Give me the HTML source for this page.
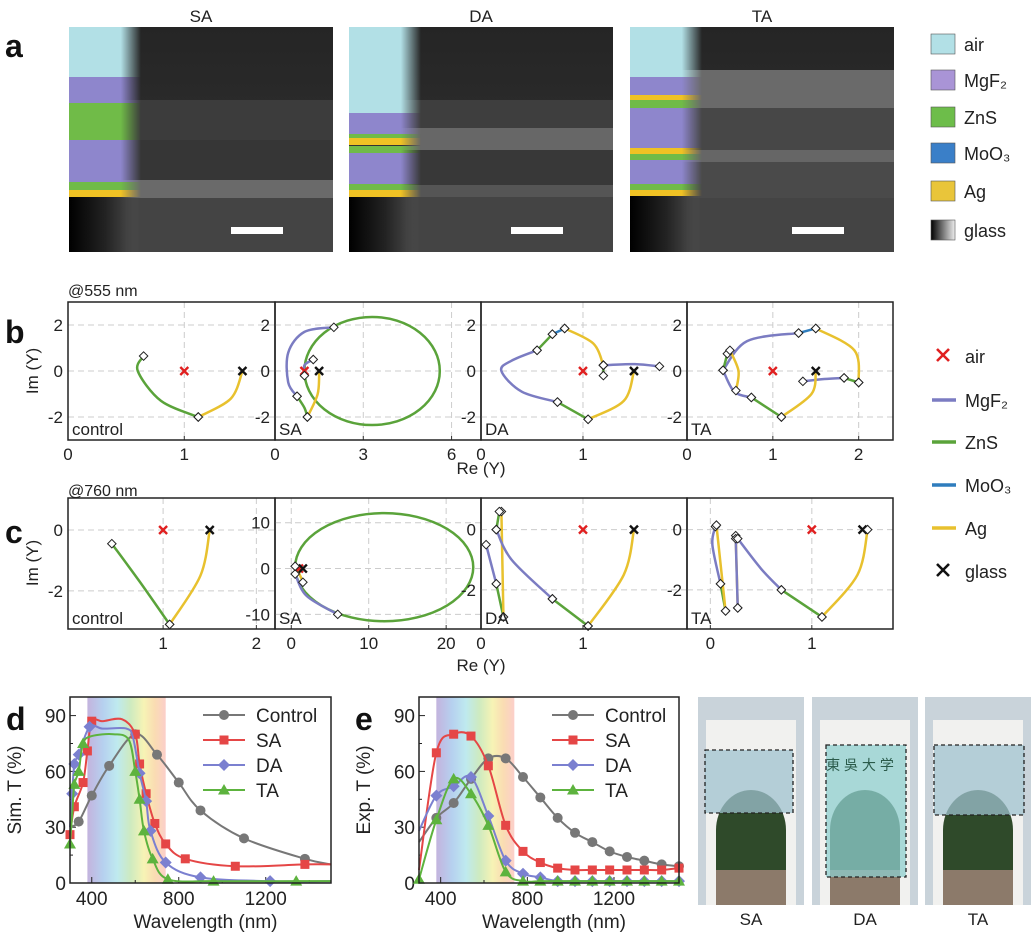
<!DOCTYPE html>
<html><head><meta charset="utf-8"><style>
body{margin:0;background:#fff;}
svg{display:block;font-family:"Liberation Sans",Arial,sans-serif;}
</style></head><body>
<svg id="fig" width="1033" height="944" viewBox="0 0 1033 944" xmlns="http://www.w3.org/2000/svg">
<defs>
<linearGradient id="glassG" x1="0" x2="1"><stop offset="0" stop-color="#000"/><stop offset="0.5" stop-color="#222"/><stop offset="1" stop-color="#555"/></linearGradient>
<linearGradient id="glassL" x1="0" x2="1"><stop offset="0" stop-color="#000"/><stop offset="1" stop-color="#eee"/></linearGradient>
<linearGradient id="spec" x1="0" x2="1"><stop offset="0" stop-color="#b9a6d8"/><stop offset="0.2" stop-color="#a9c8ec"/><stop offset="0.38" stop-color="#b3e6ec"/><stop offset="0.55" stop-color="#c5e7b5"/><stop offset="0.72" stop-color="#f5f1a8"/><stop offset="0.86" stop-color="#f9d6a5"/><stop offset="1" stop-color="#fbc6c0"/></linearGradient>
<linearGradient id="semTop" x1="0" x2="0" y1="0" y2="1"><stop offset="0" stop-color="#252525"/><stop offset="1" stop-color="#333"/></linearGradient>
<linearGradient id="maskL" x1="0" x2="1"><stop offset="0" stop-color="#fff" stop-opacity="1"/><stop offset="0.72" stop-color="#fff" stop-opacity="1"/><stop offset="1" stop-color="#fff" stop-opacity="0"/></linearGradient>
<mask id="stripeMask" maskContentUnits="objectBoundingBox"><rect x="0" y="0" width="1" height="1" fill="url(#maskL)"/></mask>
</defs>
<g id="root"></g>
</svg>
<script>
// ---------- data: panel d (simulated) ----------
const dCtrlX=[300,340,400,480,600,700,800,900,1100,1380,1500];
const dCtrlY=[30,33,47,63,80,69,54,39,24,13,10];
const dSAX=[300,320,360,380,400,450,540,600,620,650,690,740,830,1060,1380,1500];
const dSAY=[26,41,54,71,87,87,88,80,64,48,32,21,13,9,10,10];
const dDAX=[300,310,320,340,390,450,560,590,620,650,670,740,900,1220,1500];
const dDAY=[30,48,64,69,84,83,83,78,59,44,28,11,3,1,1];
const dTAX=[300,310,320,340,360,400,500,570,600,620,640,680,750,960,1340,1500];
const dTAY=[21,37,53,60,75,79,80,77,60,45,28,13,2,1,1,1];
const dCtrlM=[340,400,480,600,700,800,900,1100,1380];
const dSAM=[300,320,360,380,400,600,620,650,690,740,830,1060,1380];
const dDAM=[310,320,340,390,620,650,670,740,900,1220];
const dTAM=[300,320,340,360,600,620,640,680,750,960,1340];
// ---------- data: panel e (experimental) ----------
const eX=[300,380,460,540,620,700,780,860,940,1020,1100,1180,1260,1340,1420,1500];
const eCtrl=[22,35,43,56,67,67,57,46,35,27,22,17,14,12,10,9];
const eSA=[7,70,80,79,63,31,17,11,8,7,7,7,7,7,7,8];
const eDA=[28,47,52,57,36,12,5,3,1,1,1,1,1,1,1,1];
const eTA=[2,34,56,48,31,6,1,1,1,1,1,1,1,1,1,1];
// ---------- admittance loci: segments [layer, points] ----------
const bCtrl=[["ZnS",[[0.65,0.65],[0.6,0],[0.8,-1.3],[1.12,-2.0]]],["Ag",[[1.12,-2.0],[1.4,-1.2],[1.5,0]]]];
const bSA=[["MgF2",[[2,1.9],[1.0,1.7],[0.45,0.8],[0.45,-0.5],[0.75,-1.1]]],["ZnS",[[0.75,-1.1],[1.0,-1.6],[1.1,-2.0]]],["Ag",[[1.1,-2.0],[1.45,-1.0],[1.5,0]]],["MgF2",[[1.3,0.5],[1.0,0.25],[1.0,-0.2]]]];
const bSAring=[3.3,0,2.3,2.35];
const bDA=[["MgF2",[[0.55,0.9],[0.3,0.45],[0.2,0],[0.4,-0.9],[0.75,-1.35]]],["ZnS",[[0.75,-1.35],[1.05,-2.1]]],["Ag",[[1.05,-2.1],[1.4,-1.3],[1.5,0]]],["ZnS",[[0.55,0.9],[0.7,1.6]]],["MoO3",[[0.7,1.6],[0.82,1.85]]],["Ag",[[0.82,1.85],[1.1,1.2],[1.2,0.25]]],["ZnS",[[1.2,0.25],[1.2,-0.2]]],["MgF2",[[1.2,0.25],[1.5,0.3],[1.75,0.2]]]];
const bTA=[["MgF2",[[1.3,1.65],[0.7,1.3],[0.42,0.03]]],["MoO3",[[1.3,1.65],[1.5,1.85]]],["Ag",[[1.5,1.85],[1.95,0.9],[2.0,-0.5]]],["ZnS",[[2.0,-0.5],[1.83,-0.3]]],["MgF2",[[1.83,-0.3],[1.6,-0.35],[1.35,-0.45]]],["Ag",[[1.5,0],[1.45,-1],[1.1,-2]]],["ZnS",[[1.1,-2],[0.75,-1.15]]],["MgF2",[[0.75,-1.15],[0.55,-0.9],[0.42,0.03]]],["ZnS",[[0.42,0.03],[0.47,0.75]]],["Ag",[[0.5,0.9],[0.6,0],[0.57,-0.85]]]];
const cCtrl=[["ZnS",[[0.45,-0.45],[0.75,-1.7],[1.07,-3.1]]],["Ag",[[1.07,-3.1],[1.4,-1.5],[1.5,0]]]];
const cSA=[["MgF2",[[0.5,-1.2],[2,-6],[6,-10]]],["Ag",[[0.5,0.5],[1,-1],[1.5,-3]]]];
const cSAring=[12,0.3,11.5,11.8];
const cDA=[["MgF2",[[0.05,-0.5],[0.15,-1.8]]],["ZnS",[[0.15,-1.8],[0.22,-2.9]]],["Ag",[[0.22,-2.9],[0.2,0.6]]],["ZnS",[[0.18,0.6],[0.15,0]]],["MgF2",[[0.15,0],[0.3,-1.0],[0.7,-2.3]]],["ZnS",[[0.7,-2.3],[1.05,-3.2]]],["Ag",[[1.05,-3.2],[1.4,-1.5],[1.5,0]]]];
const cTA=[["MgF2",[[0.05,0.1],[0.02,-0.5],[0.1,-1.8]]],["ZnS",[[0.1,-1.8],[0.15,-2.7]]],["Ag",[[0.15,-2.7],[0.06,0.15]]],["Ag",[[0.25,-0.2],[0.27,-2.6]]],["MgF2",[[0.27,-2.6],[0.25,-0.3]]],["MgF2",[[0.27,-0.3],[0.5,-1.3],[0.7,-2.0]]],["ZnS",[[0.7,-2.0],[1.1,-2.9]]],["Ag",[[1.1,-2.9],[1.45,-1.5],[1.55,0]]]];
const layerColor={MgF2:"#7b7cc2",ZnS:"#5aa33a",MoO3:"#2f7dbd",Ag:"#e8c12e"};

const NS="http://www.w3.org/2000/svg";
const root=document.getElementById('root');
function el(tag,attrs,parent,name,inter){const e=document.createElementNS(NS,tag);for(const k in attrs)e.setAttribute(k,attrs[k]);
 
 
 (parent||root).appendChild(e);return e;}
function txt(x,y,s,size,parent,name,extra){const t=el('text',Object.assign({x:x,y:y,'font-size':size,fill:'#222'},extra||{}),parent,name);t.textContent=s;return t;}
function smooth(pts){if(pts.length<3)return 'M'+pts.map(p=>p[0]+','+p[1]).join('L');
 let d='M'+pts[0][0]+','+pts[0][1];
 for(let i=0;i<pts.length-1;i++){const p0=pts[i-1]||pts[i],p1=pts[i],p2=pts[i+1],p3=pts[i+2]||p2;
  const c1=[p1[0]+(p2[0]-p0[0])/6,p1[1]+(p2[1]-p0[1])/6],c2=[p2[0]-(p3[0]-p1[0])/6,p2[1]-(p3[1]-p1[1])/6];
  d+='C'+c1[0]+','+c1[1]+' '+c2[0]+','+c2[1]+' '+p2[0]+','+p2[1];}
 return d;}

// ---------- panel a ----------
txt(5,57,'a',32,root,'panel-a-label',{'font-weight':'bold',fill:'#111'});
const semPanels=[{t:'SA',x:69,layers:[['#b2e0e6',27,77],['#8e86cc',77,103],['#70bb48',103,140],['#8e86cc',140,182],['#70bb48',182,190],['#f0c224',190,197]],films:[[100,140,'#3c3c3c'],[140,180,'#363636'],[180,198,'#6a6a6a']],sub:198},
 {t:'DA',x:349,layers:[['#b2e0e6',27,113],['#8e86cc',113,134],['#70bb48',134,138],['#f0c224',138,145],['#333',145,146],['#70bb48',146,153],['#8e86cc',153,184],['#70bb48',184,190],['#f0c224',190,197]],films:[[100,128,'#3e3e3e'],[128,150,'#676767'],[150,185,'#383838'],[185,197,'#555']],sub:197},
 {t:'TA',x:630,layers:[['#b2e0e6',27,77],['#8e86cc',77,95],['#f0c224',95,100],['#70bb48',100,108],['#8e86cc',108,148],['#f0c224',148,154],['#70bb48',154,160],['#8e86cc',160,184],['#70bb48',184,190],['#f0c224',190,196]],films:[[70,108,'#6a6a6a'],[108,150,'#474747'],[150,162,'#666'],[162,198,'#4a4a4a']],sub:198}];
semPanels.forEach(p=>{
 const g=el('g',{},root,'sem-image-'+p.t.toLowerCase());
 el('rect',{x:p.x,y:27,width:264,height:225,fill:'url(#semTop)'},g,'sem-background');
 p.films.forEach(b=>el('rect',{x:p.x,y:b[0],width:264,height:b[1]-b[0],fill:b[2]},g,'sem-film-layer'));
 el('rect',{x:p.x,y:p.sub,width:264,height:252-p.sub,fill:'#444'},g,'sem-substrate');
 const sg=el('g',{mask:'url(#stripeMask)'},g,'layer-stripe');
 p.layers.forEach(l=>el('rect',{x:p.x,y:l[1],width:72,height:l[2]-l[1],fill:l[0]},sg,'layer-band'));
 el('rect',{x:p.x,y:p.layers[p.layers.length-1][2],width:72,height:252-p.layers[p.layers.length-1][2],fill:'url(#glassG)'},sg,'glass-band');
 el('rect',{x:p.x+162,y:227,width:52,height:7,fill:'#fff'},g,'scale-bar');
 txt(p.x+132,22,p.t,17,g,'sem-title',{'text-anchor':'middle'});
});
const aLeg=[['#b2e0e6','air'],['#a994d6','MgF₂'],['#6dbd4a','ZnS'],['#3a7fc8','MoO₃'],['#e9c53a','Ag'],['url(#glassL)','glass']];
aLeg.forEach((l,i)=>{const y=[34,70,107,143,181,220][i];
 el('rect',{x:931,y:y,width:24,height:20,fill:l[0],stroke:'#555','stroke-width':0.6},root,'legend-swatch-'+i);
 txt(964,y+17,l[1],18,root,'legend-label-a');});

// ---------- panels b, c ----------
txt(5,343,'b',32,root,'panel-b-label',{'font-weight':'bold',fill:'#111'});
txt(5,543,'c',32,root,'panel-c-label',{'font-weight':'bold',fill:'#111'});
txt(68,296,'@555 nm',16,root,'wavelength-555-label');
txt(68,496,'@760 nm',16,root,'wavelength-760-label');
function admitPlot(px0,px1,py0,py1,xd,yd,xt,yt,segs,ring,label,name,redX,blackX){
 const g=el('g',{},root,name);
 const sx=v=>px0+(v-xd[0])/(xd[1]-xd[0])*(px1-px0), sy=v=>py1-(v-yd[0])/(yd[1]-yd[0])*(py1-py0);
 xt.forEach(t=>{el('line',{x1:sx(t),x2:sx(t),y1:py0,y2:py1,stroke:'#ccc','stroke-dasharray':'6 4'},g,'grid-x');
  el('line',{x1:sx(t),x2:sx(t),y1:py1,y2:py1-4,stroke:'#333'},g,'tick-x');
  txt(sx(t),py1+20,String(t),17,g,'x-tick-label',{'text-anchor':'middle'});});
 yt.forEach(t=>{el('line',{x1:px0,x2:px1,y1:sy(t),y2:sy(t),stroke:'#ccc','stroke-dasharray':'6 4'},g,'grid-y');
  txt(px0-5,sy(t)+6,String(t),17,g,'y-tick-label',{'text-anchor':'end'});});
 if(ring) el('ellipse',{cx:sx(ring[0]),cy:sy(ring[1]),rx:Math.abs(sx(ring[2])-sx(0)),ry:Math.abs(sy(ring[3])-sy(0)),fill:'none',stroke:layerColor.ZnS,'stroke-width':2.5},g,'zns-locus-ring');
 const ends=[];
 segs.forEach(s=>{const pts=s[1].map(p=>[sx(p[0]),sy(p[1])]);
  el('path',{d:smooth(pts),fill:'none',stroke:layerColor[s[0]],'stroke-width':2.5,'stroke-linecap':'round'},g,'locus-'+s[0].toLowerCase());
  ends.push(pts[0],pts[pts.length-1]);});
 const xm=(x,y,c)=>{el('path',{d:`M${x-4},${y-4}L${x+4},${y+4}M${x-4},${y+4}L${x+4},${y-4}`,stroke:c,'stroke-width':2.4},g,c=='#e02020'?'air-marker':'glass-marker');};
 xm(sx(redX),sy(0),'#e02020');xm(sx(blackX),sy(0),'#111');
 ends.forEach(p=>{if(Math.abs(p[0]-sx(blackX))<3&&Math.abs(p[1]-sy(0))<3)return;
  el('rect',{x:p[0]-3,y:p[1]-3,width:6,height:6,transform:`rotate(45 ${p[0]} ${p[1]})`,fill:'#fff',stroke:'#222','stroke-width':1},g,'interface-marker');});
 el('rect',{x:px0,y:py0,width:px1-px0,height:py1-py0,fill:'none',stroke:'#222','stroke-width':1.5},g,'plot-frame');
 txt(px0+4,py1-5,label,17,g,'subplot-label');
}
admitPlot(68,275,302,440,[0,1.78],[-3,3],[0,1],[2,0,-2],bCtrl,null,'control','plot-b-control',1,1.5);
admitPlot(275,481,302,440,[0,7],[-3,3],[0,3,6],[2,0,-2],bSA,bSAring,'SA','plot-b-sa',1,1.5);
admitPlot(481,687,302,440,[0,2.02],[-3,3],[0,1],[2,0,-2],bDA,null,'DA','plot-b-da',1,1.5);
admitPlot(687,893,302,440,[0,2.4],[-3,3],[0,1,2],[2,0,-2],bTA,null,'TA','plot-b-ta',1,1.5);
admitPlot(68,275,498,629,[-0.02,2.2],[-3.25,1.05],[1,2],[0,-2],cCtrl,null,'control','plot-c-control',1,1.5);
admitPlot(275,481,498,629,[-2.1,24.5],[-13.2,15.4],[0,10,20],[10,0,-10],cSA,cSAring,'SA','plot-c-sa',1,1.5);
admitPlot(481,687,498,629,[0,2.02],[-3.3,1.05],[0,1],[0,-2],cDA,null,'DA','plot-c-da',1,1.5);
admitPlot(687,893,498,629,[-0.23,1.8],[-3.3,1.05],[0,1],[0,-2],cTA,null,'TA','plot-c-ta',1,1.5);
txt(481,474,'Re (Y)',17,root,'x-axis-title-b',{'text-anchor':'middle'});
txt(481,671,'Re (Y)',17,root,'x-axis-title-c',{'text-anchor':'middle'});
txt(0,0,'Im (Y)',17,root,'y-axis-title-b',{'text-anchor':'middle',transform:'translate(38,371) rotate(-90)'});
txt(0,0,'Im (Y)',17,root,'y-axis-title-c',{'text-anchor':'middle',transform:'translate(38,563) rotate(-90)'});
const bLeg=[['x','#e02020','air'],['l',layerColor.MgF2,'MgF₂'],['l',layerColor.ZnS,'ZnS'],['l',layerColor.MoO3,'MoO₃'],['l',layerColor.Ag,'Ag'],['x','#111','glass']];
bLeg.forEach((l,i)=>{const y=[356,400,442,485,528,571][i];
 if(l[0]=='x') el('path',{d:`M937,${y-7}L949,${y+5}M937,${y+5}L949,${y-7}`,stroke:l[1],'stroke-width':2.6},root,'legend-marker-'+l[2]);
 else el('line',{x1:932,x2:956,y1:y,y2:y,stroke:l[1],'stroke-width':3.5},root,'legend-line-'+i);
 txt(965,y+7,l[2],18,root,'legend-label-b');});

// ---------- panels d, e ----------
function specPlot(px0,px1,py0,py1,series,label,ytitle,name){
 const g=el('g',{},root,name);
 const sx=v=>px0+(v-300)/1200*(px1-px0), sy=v=>py1-v/100*(py1-py0);
 el('rect',{x:sx(380),y:py0,width:sx(740)-sx(380),height:py1-py0,fill:'url(#spec)',opacity:0.85},g,'visible-spectrum-band');
 [400,800,1200].forEach(t=>{el('line',{x1:sx(t),x2:sx(t),y1:py1,y2:py1-6,stroke:'#222'},g,'tick-x');
  txt(sx(t),py1+22,String(t),19,g,'x-tick-label',{'text-anchor':'middle'});});
 [600,1000,1400].forEach(t=>el('line',{x1:sx(t),x2:sx(t),y1:py1,y2:py1-3,stroke:'#222'},g,'minor-tick-x'));
 [0,30,60,90].forEach(t=>{el('line',{x1:px0,x2:px0+6,y1:sy(t),y2:sy(t),stroke:'#222'},g,'tick-y');
  txt(px0-4,sy(t)+7,String(t),19,g,'y-tick-label',{'text-anchor':'end'});});
 [15,45,75].forEach(t=>el('line',{x1:px0,x2:px0+3,y1:sy(t),y2:sy(t),stroke:'#222'},g,'minor-tick-y'));
 series.forEach((s,si)=>{const pts=s.x.map((x,i)=>[sx(x),sy(s.y[i])]);
  el('path',{d:smooth(pts),fill:'none',stroke:s.c,'stroke-width':2},g,'series-line-'+s.n.toLowerCase());
  s.m.forEach(mx=>{const i=s.x.indexOf(mx);const X=sx(mx),Y=sy(s.y[i]);mark(g,s.k,X,Y,s.c,s.n);});
  const ly=py0+[18,43,68,93][si];
  el('line',{x1:px0+133,x2:px0+175,y1:ly,y2:ly,stroke:s.c,'stroke-width':2},g,'legend-line');
  mark(g,s.k,px0+154,ly,s.c,s.n);
  txt(px0+186,ly+7,s.n,19,g,'legend-label');});
 el('rect',{x:px0,y:py0,width:px1-px0,height:py1-py0,fill:'none',stroke:'#222','stroke-width':1.5},g,'plot-frame');
 txt((px0+px1)/2+5,py1+45,'Wavelength (nm)',19,g,'x-axis-title',{'text-anchor':'middle'});
 txt(0,0,ytitle,19,g,'y-axis-title',{'text-anchor':'middle',transform:`translate(${px0-49},${(py0+py1)/2}) rotate(-90)`});
 txt(px0-64,py0+33,label,32,g,'panel-label',{'font-weight':'bold',fill:'#111'});
}
function mark(g,k,x,y,c,n){
 if(k=='o') el('circle',{cx:x,cy:y,r:5,fill:c},g,'marker-'+n.toLowerCase());
 else if(k=='s') el('rect',{x:x-4.5,y:y-4.5,width:9,height:9,fill:c},g,'marker-'+n.toLowerCase());
 else if(k=='d') el('path',{d:`M${x},${y-6}L${x+6},${y}L${x},${y+6}L${x-6},${y}Z`,fill:c},g,'marker-'+n.toLowerCase());
 else el('path',{d:`M${x},${y-6}L${x+6},${y+4.5}L${x-6},${y+4.5}Z`,fill:c},g,'marker-'+n.toLowerCase());
}
specPlot(70,331,697,883,[
 {n:'Control',c:'#777',k:'o',x:dCtrlX,y:dCtrlY,m:dCtrlM},
 {n:'SA',c:'#e54646',k:'s',x:dSAX,y:dSAY,m:dSAM},
 {n:'DA',c:'#7b80d0',k:'d',x:dDAX,y:dDAY,m:dDAM},
 {n:'TA',c:'#5db33e',k:'t',x:dTAX,y:dTAY,m:dTAM}],'d','Sim. T (%)','plot-d-simulated');
const eM=eX.slice(1);
specPlot(419,679,697,883,[
 {n:'Control',c:'#777',k:'o',x:eX,y:eCtrl,m:eM},
 {n:'SA',c:'#e54646',k:'s',x:eX,y:eSA,m:eM},
 {n:'DA',c:'#7b80d0',k:'d',x:eX,y:eDA,m:eM},
 {n:'TA',c:'#5db33e',k:'t',x:eX,y:eTA,m:eX}],'e','Exp. T (%)','plot-e-experimental');

// ---------- panel f ----------
txt(706,733,'f',32,root,'panel-f-label',{'font-weight':'bold',fill:'#111'});
const photos=[{t:'SA',x:698},{t:'DA',x:812},{t:'TA',x:925}];
photos.forEach((p,i)=>{
 const g=el('g',{},root,'photo-'+p.t.toLowerCase());
 el('rect',{x:p.x,y:697,width:106,height:208,fill:'#c9d3da'},g,'photo-sky');
 el('rect',{x:p.x+8,y:720,width:90,height:185,fill:'#f1f1ef'},g,'gate-wall');
 el('path',{d:`M${p.x+18},905V830A35,40 0 0 1 ${p.x+88},830V905Z`,fill:'#2f4a2a'},g,'gate-arch-opening');
 el('rect',{x:p.x+18,y:870,width:70,height:35,fill:'#8c7a6a'},g,'ground');
 const rx=i==0?p.x+7:p.x+(i==1?14:9), rw=i==0?88:i==1?80:90, ry=i==0?750:745, rh=i==0?63:i==1?132:70;
 el('rect',{x:rx,y:ry,width:rw,height:rh,fill:i==1?'#8fcfcf':'#9fc2cf',opacity:0.75},g,'coated-glass-region');
 el('rect',{x:rx,y:ry,width:rw,height:rh,fill:'none',stroke:'#222','stroke-width':1.3,'stroke-dasharray':'4 3'},g,'glass-outline');
 txt(p.x+53,925,p.t,17,root,'photo-label',{'text-anchor':'middle'});
});
txt(860,770,'東 吳 大 学',14,root,'gate-inscription',{'text-anchor':'middle',fill:'#2a5a4a','font-family':'"Liberation Sans","Noto Sans CJK TC",sans-serif'});
</script>
</body></html>
